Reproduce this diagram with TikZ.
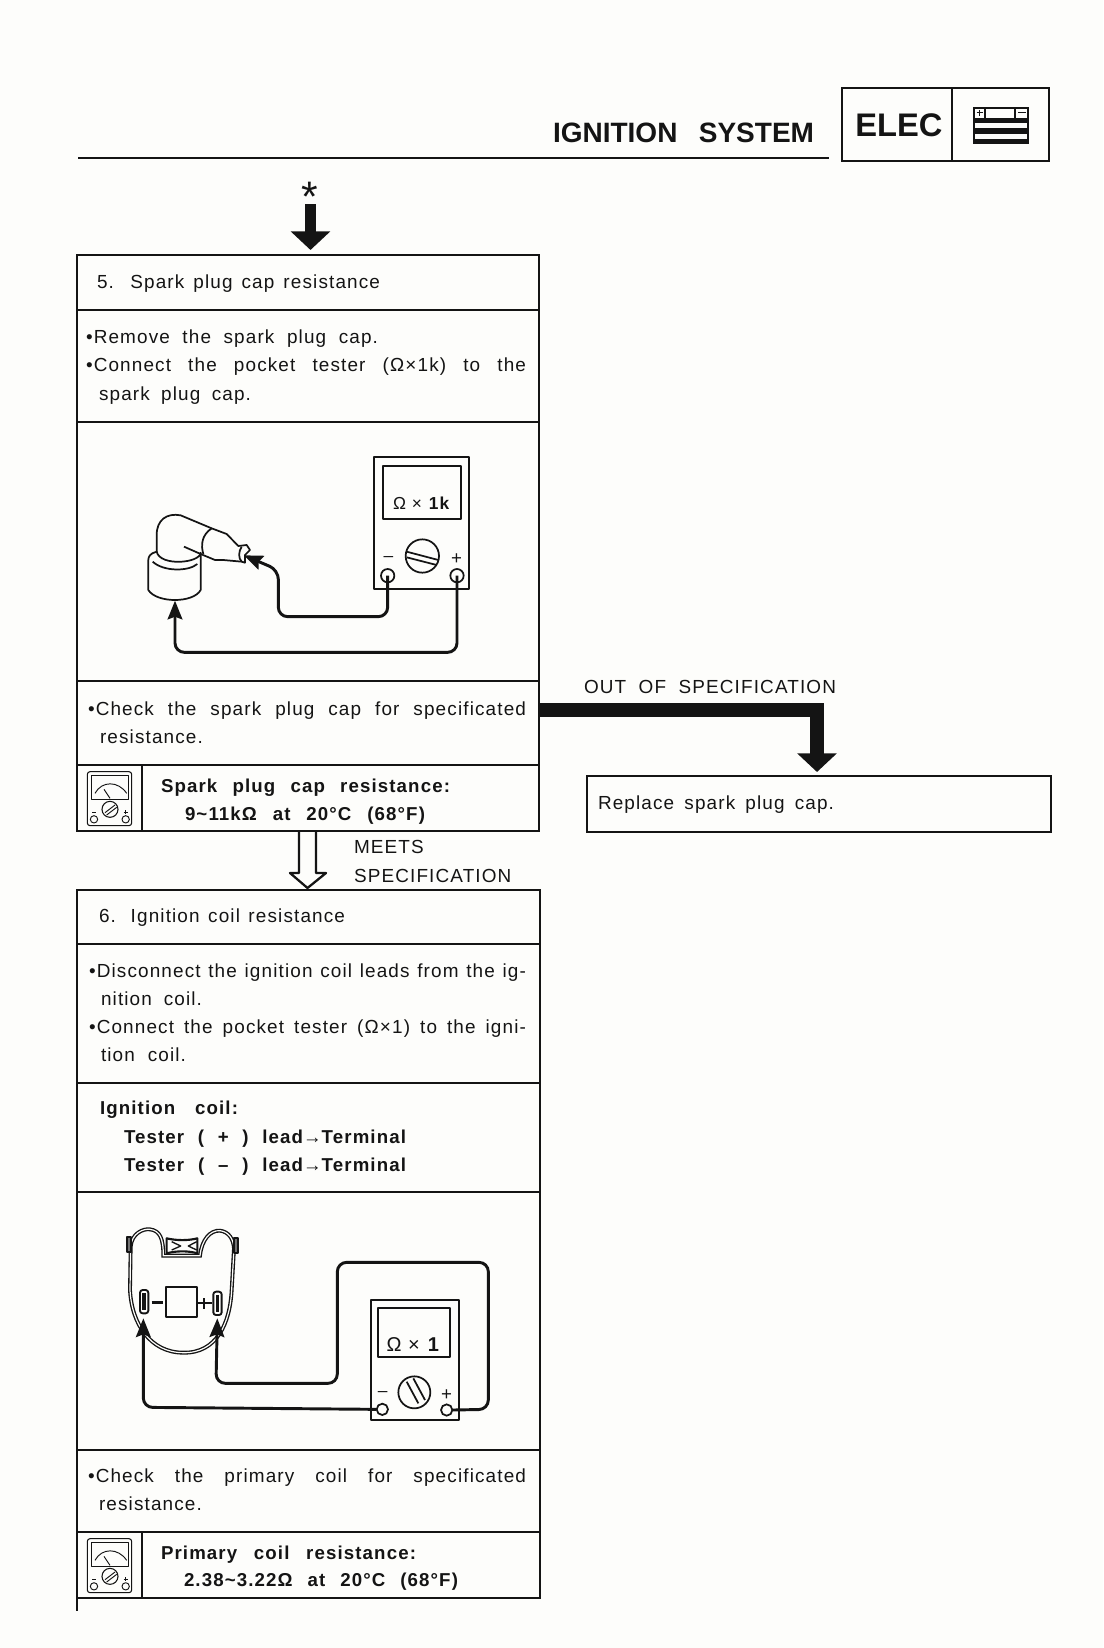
\documentclass[tikz,border=0pt]{standalone}
\usepackage{fontspec}
\setmainfont{Liberation Sans}[LetterSpace=6]
\newfontfamily\titlefont{Liberation Sans}
\usetikzlibrary{arrows.meta,fit}
\definecolor{ink}{HTML}{141414}
\definecolor{paper}{HTML}{FDFDFB}
\tikzset{
  cellbox/.style={draw=ink,line width=1.7pt,inner sep=0pt,fill=none},
  label text/.style={anchor=base west,inner sep=0pt,outer sep=0pt,text=ink,font=\fontsize{14.2pt}{16pt}\selectfont},
  bold text/.style={label text,font=\fontsize{14pt}{16pt}\selectfont\bfseries},
  wire/.style={draw=ink,line width=2.2pt,rounded corners=7pt},
  wiretip/.style={-{Stealth[length=14pt,width=11pt,inset=2pt]}},
  fine/.style={draw=ink,line width=1.3pt,line join=round},
  heavyarrow/.style={draw=ink,line width=11.2pt,-{Triangle[length=14pt,width=29pt]}},
  terminal/.style={circle,draw=ink,line width=1.3pt,fill=paper,inner sep=0pt,minimum size=10pt}
}
\newcommand{\wbox}[2]{\makebox[\dimexpr #1pt*3/4\relax][s]{#2}}
\newcommand{\cell}[5]{\node[cellbox,fit={(#2,#3)(#4,#5)}] (#1) {};}
\newcommand{\lbl}[6][label text]{\node[#1] (#2) at (#3,#4) {\wbox{#5}{#6}};}
\newcommand{\plainlbl}[5][label text]{\node[#1] (#2) at (#3,#4) {#5};}
\newcommand{\metericon}[2]{%
\begin{scope}[shift={(#1pt,#2pt)},x=.25pt,y=-.25pt]
  \draw[fine,line width=.8pt,rounded corners=2pt] (82,35) rectangle (215,197);
  \draw[fine,line width=.8pt] (95,47) rectangle (205,118);
  \draw[fine,line width=.7pt] (105,100) .. controls (125,62) and (175,62) .. (200,100);
  \draw[fine,line width=.7pt] (132,88) -- (150,115);
  \draw[fine,line width=.8pt] (150,148) circle (24);
  \draw[fine,line width=.7pt] (135,158) -- (165,135) (140,165) -- (170,142);
  \draw[fine,line width=.7pt] (102,178) circle (11) (197,178) circle (11);
  \draw[fine,line width=.7pt] (96,158) -- (108,158) (191,156) -- (203,156) (197,150) -- (197,162);
\end{scope}}
\begin{document}
\begin{tikzpicture}[x=0.75pt,y=-0.75pt]
\useasboundingbox (0,0) rectangle (1103,1648);
\fill[paper] (0,0) rectangle (1103,1648);

% header
\plainlbl[label text,font=\titlefont\fontsize{21pt}{24pt}\selectfont\bfseries]{title}{553}{143}{\wbox{261}{IGNITION SYSTEM}}
\coordinate (ruleL) at (78,158);
\coordinate (ruleR) at (829,158);
\draw[draw=ink,line width=1.6pt] (ruleL) -- (ruleR);
\cell{elecA}{842}{88}{952}{161}
\cell{elecB}{952}{88}{1049}{161}
\plainlbl[anchor=center,inner sep=0pt,text=ink,font=\titlefont\fontsize{24.5pt}{28pt}\selectfont\bfseries]{elec}{899}{125}{ELEC}
\begin{scope}[shift={(622.5pt,-60pt)},x=.25pt,y=-.25pt]
  \fill[ink] (428,80) rectangle (597,192);
  \fill[paper] (434,86) rectangle (591,114);
  \fill[paper] (434,130) rectangle (591,145);
  \fill[paper] (434,162) rectangle (591,177);
  \draw[fine,line width=.8pt] (465,84) -- (465,114) (555,84) -- (555,114);
  \draw[fine,line width=1pt] (440,98) -- (458,98) (449,90) -- (449,108) (565,98) -- (588,98);
\end{scope}

% top arrow
\plainlbl[anchor=center,inner sep=0pt,text=ink,font=\fontsize{32pt}{32pt}\selectfont]{star}{310}{197}{*}
\coordinate (starfoot) at (310.5,204);
\coordinate (stepfive) at (310.5,250);
\draw[draw=ink,line width=8pt,-{Triangle[length=14pt,width=29pt]}] (starfoot) -- (stepfive);

% first block
\cell{fiveA}{77}{255}{539}{310}
\cell{fiveB}{77}{310}{539}{422}
\cell{fiveC}{77}{422}{539}{681}
\cell{fiveD}{77}{681}{539}{765}
\cell{fiveE}{77}{765}{142}{831}
\cell{fiveF}{142}{765}{539}{831}
\lbl{t1}{97}{288}{283}{5. Spark plug cap resistance}
\lbl{t2}{86}{343}{292}{•Remove the spark plug cap.}
\lbl{t3}{86}{371}{440}{•Connect the pocket tester (Ω×1k) to the}
\lbl{t4}{99}{400}{152}{spark plug cap.}
\lbl{t5}{88}{715}{438}{•Check the spark plug cap for specificated}
\lbl{t6}{100}{743}{103}{resistance.}
\lbl[bold text]{t7}{161}{792}{289}{Spark plug cap resistance:}
\lbl[bold text]{t8}{185}{820}{240}{9\textasciitilde11kΩ at 20°C (68°F)}
\metericon{45}{-570}

% first tester drawing (coordinates of the 3x crop)
\begin{scope}[shift={(45pt,-315pt)},x=.25pt,y=-.25pt]
  \draw[fine] (942,112) rectangle (1226,508);
  \draw[fine] (970,137) rectangle (1202,296);
  \node[inner sep=0pt,text=ink,font=\fontsize{13pt}{14pt}\selectfont] (rangeA) at (1085,250) {Ω × \textbf{1k}};
  \node[circle,draw=ink,line width=1.3pt,minimum size=25pt,inner sep=0pt] (knobA) at (1087,408) {};
  \draw[fine] (1040,395) -- (1135,420) (1040,412) -- (1130,435);
  \node[inner sep=0pt,text=ink,font=\fontsize{13pt}{14pt}\selectfont] (minusA) at (985,416) {–};
  \node[inner sep=0pt,text=ink,font=\fontsize{14pt}{14pt}\selectfont] (plusA) at (1190,418) {+};
  \node[terminal] (tmA) at (983,467) {};
  \node[terminal] (tpA) at (1191,467) {};
  % boot
  \draw[fine,fill=paper] (290,405) -- (290,345) .. controls (290,300) and (320,278) .. (362,286)
     -- (455,325) -- (500,342) -- (535,378) -- (560,375) -- (570,390) -- (555,405) -- (555,428) -- (545,425)
     -- (490,420) -- (465,420) -- (422,402) -- (372,380);
  \draw[fine] (455,325) .. controls (425,345) and (422,375) .. (430,402);
  \draw[fine] (545,380) .. controls (535,395) and (535,415) .. (545,425);
  % cap
  \draw[fine,fill=paper] (290,395) .. controls (270,400) and (265,410) .. (265,420) -- (265,510)
     .. controls (290,550) and (400,550) .. (422,510) -- (422,398)
     .. controls (420,430) and (300,440) .. (290,395) -- cycle;
  \draw[fine] (278,425) .. controls (310,455) and (385,455) .. (412,432);
  \coordinate (tipTop) at (552,406);
  \coordinate (tipCap) at (345,542);
  \draw[wire,wiretip] (tmA.center) -- (983,590) -- (655,590) -- (655,450) -- (tipTop);
  \draw[wire,wiretip] (tpA.center) -- (1191,697) -- (345,697) -- (tipCap);
\end{scope}

% out of specification
\lbl{t9}{584}{693}{252}{OUT OF SPECIFICATION}
\cell{replace}{587}{776}{1051}{832}
\lbl{t10}{598}{809}{236}{Replace spark plug cap.}
\coordinate (outA) at (539,710);
\coordinate (outB) at (817,710);
\coordinate (outC) at (817,772);
\draw[heavyarrow,line join=miter] (outA) -- (outB) -- (outC);

% meets specification
\lbl{t11}{354}{853}{72}{MEETS}
\lbl{t12}{354}{882}{162}{SPECIFICATION}
\coordinate (hollowTip) at (307.5,888);
\draw[fine,line width=1.7pt,fill=paper] (299,832) -- (299,873) -- (290,873) -- (hollowTip) -- (326,873) -- (316,873) -- (316,832);

% second block
\cell{sixA}{77}{890}{540}{944}
\cell{sixB}{77}{944}{540}{1083}
\cell{sixC}{77}{1083}{540}{1192}
\cell{sixD}{77}{1192}{540}{1450}
\cell{sixE}{77}{1450}{540}{1532}
\cell{sixF}{77}{1532}{142}{1598}
\cell{sixG}{142}{1532}{540}{1598}
\coordinate (tailA) at (77,1598);
\coordinate (tailB) at (77,1611);
\draw[draw=ink,line width=1.7pt] (tailA) -- (tailB);
\lbl{t13}{99}{922}{246}{6. Ignition coil resistance}
\lbl{t14}{89}{977}{437}{•Disconnect the ignition coil leads from the ig-}
\lbl{t15}{101}{1005}{101}{nition coil.}
\lbl{t16}{89}{1033}{437}{•Connect the pocket tester (Ω×1) to the igni-}
\lbl{t17}{101}{1061}{85}{tion coil.}
\lbl[bold text]{t18}{100}{1114}{138}{Ignition coil:}
\lbl[bold text]{t19}{124}{1143}{282}{Tester ( + ) lead{\mdseries\fontsize{14pt}{14pt}\selectfont →}Terminal}
\lbl[bold text]{t20}{124}{1171}{282}{Tester ( – ) lead{\mdseries\fontsize{14pt}{14pt}\selectfont →}Terminal}
\lbl{t21}{88}{1482}{438}{•Check the primary coil for specificated}
\lbl{t22}{99}{1510}{103}{resistance.}
\lbl[bold text]{t23}{161}{1559}{255}{Primary coil resistance:}
\lbl[bold text]{t24}{184}{1586}{274}{2.38\textasciitilde3.22Ω at 20°C (68°F)}
\metericon{45}{-1145.25}

% second tester drawing (coordinates of the 3x crop)
\begin{scope}[shift={(45pt,-892.5pt)},x=.25pt,y=-.25pt]
  % coil body
  \draw[draw=ink,line width=1pt,double=paper,double distance=.9pt]
    (212,170) .. controls (215,130) and (250,115) .. (270,118)
    .. controls (300,122) and (310,145) .. (310,197) -- (420,197)
    .. controls (425,150) and (450,120) .. (480,122)
    .. controls (505,125) and (520,145) .. (522,175) -- (515,300)
    .. controls (510,400) and (470,490) .. (370,488)
    .. controls (270,488) and (215,400) .. (210,300) -- cycle;
  \draw[fine,fill=ink!60] (200,140) rectangle (212,185);
  \draw[fine,fill=ink!60] (522,145) rectangle (533,190);
  \draw[fine,line width=1.6pt] (320,145) .. controls (350,152) and (385,152) .. (412,145) -- (412,190)
     .. controls (385,182) and (350,182) .. (320,190) -- cycle;
  \draw[fine,line width=1pt] (335,155) -- (362,168) -- (335,180) (410,155) -- (385,168) -- (410,180);
  \draw[fine,line width=1.4pt,rounded corners=2pt,fill=paper] (240,300) rectangle (265,370);
  \fill[ink] (247,310) rectangle (258,360);
  \draw[fine,line width=1.4pt,rounded corners=2pt,fill=paper] (460,305) rectangle (485,375);
  \fill[ink] (467,315) rectangle (478,365);
  \draw[fine,line width=1.7pt] (318,290) rectangle (410,380);
  \draw[fine,line width=1.8pt] (275,337) -- (310,337);
  \draw[fine,line width=1.5pt] (410,340) -- (455,340) (433,325) -- (433,358);
  % tester
  \draw[fine] (932,330) rectangle (1196,690);
  \draw[fine] (955,355) rectangle (1170,500);
  \node[inner sep=0pt,text=ink,font=\fontsize{15pt}{16pt}\selectfont] (rangeB) at (1060,463) {Ω × \textbf{1}};
  \node[circle,draw=ink,line width=1.3pt,minimum size=24pt,inner sep=0pt] (knobB) at (1063,607) {};
  \draw[fine] (1040,575) -- (1075,640) (1060,565) -- (1095,630);
  \node[inner sep=0pt,text=ink,font=\fontsize{13pt}{14pt}\selectfont] (minusB) at (968,612) {–};
  \node[inner sep=0pt,text=ink,font=\fontsize{14pt}{14pt}\selectfont] (plusB) at (1160,615) {+};
  \node[terminal,minimum size=8.5pt] (tmB) at (967,658) {};
  \node[terminal,minimum size=8.5pt] (tpB) at (1160,660) {};
  \coordinate (tipL) at (250,385);
  \coordinate (tipR) at (472,385);
  \draw[wire,wiretip] (tmB.west) -- (250,652) -- (tipL);
  \draw[wire,wiretip] (tpB.east) -- (1285,658) -- (1285,217) -- (832,217) -- (832,580) -- (468,580) -- (tipR);
\end{scope}
\end{tikzpicture}
\end{document}
